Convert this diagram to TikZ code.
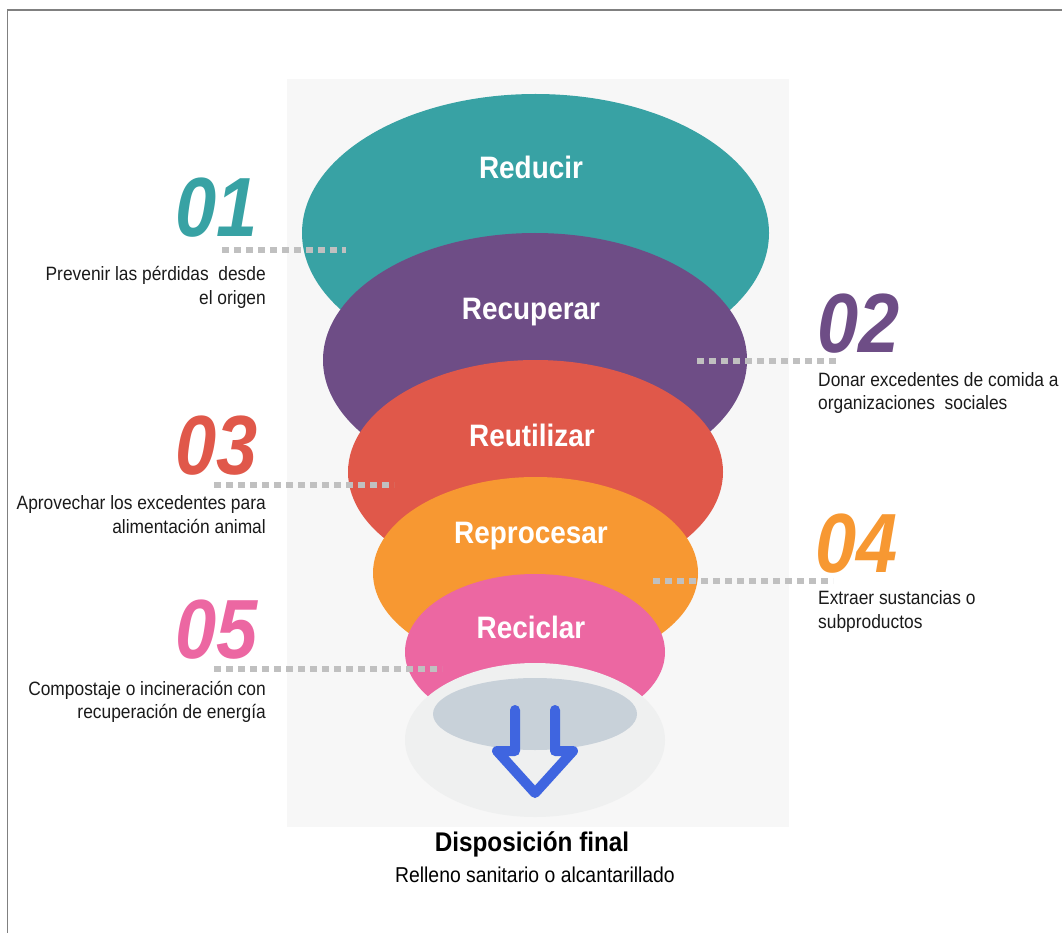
\documentclass[tikz,border=0pt]{standalone}
\usepackage{fontspec}
\setmainfont{Liberation Sans}
\newfontfamily\narrowf{Liberation Sans}[FakeStretch=0.9]
\newfontfamily\numf{Liberation Sans}[FakeStretch=0.88]
\definecolor{cteal}{HTML}{38A2A4}
\definecolor{cpurple}{HTML}{6E4D86}
\definecolor{cred}{HTML}{E0584A}
\definecolor{corange}{HTML}{F79832}
\definecolor{cpink}{HTML}{EC67A2}
\definecolor{cbg}{HTML}{F7F7F7}
\definecolor{clight}{HTML}{EFF0F0}
\definecolor{cdark}{HTML}{C8D1D9}
\definecolor{cblue}{HTML}{3F65E0}
\definecolor{cdot}{HTML}{C0C0C0}
\definecolor{cframe}{HTML}{808080}
\definecolor{ctext}{HTML}{1A1A1A}
\begin{document}
\begin{tikzpicture}[x=1pt,y=-1pt,
  title/.style={anchor=base,inner sep=0pt,text=white,font=\narrowf\bfseries\fontsize{31}{31}\selectfont},
  num/.style={anchor=base east,inner sep=0pt,font=\numf\bfseries\itshape\fontsize{84}{84}\selectfont},
  numr/.style={anchor=base west,inner sep=0pt,font=\numf\bfseries\itshape\fontsize{84}{84}\selectfont},
  descl/.style={anchor=base east,inner sep=0pt,text=ctext,font=\narrowf\fontsize{19.3}{24}\selectfont},
  descr/.style={anchor=base west,inner sep=0pt,text=ctext,font=\narrowf\fontsize{19.3}{24}\selectfont},
  dotline/.style={draw=cdot,line width=6.5pt,dash pattern=on 6.5pt off 5.5pt}]
\useasboundingbox (0,0) rectangle (1062,933);
% frame
\draw[cframe,line width=1.5pt] (7.5,933) -- (7.5,10) -- (1062,10);
% background panel
\fill[cbg] (287,79) rectangle (789,827);
% funnel ellipses
\fill[cteal] (535.5,233) ellipse [x radius=233.5pt, y radius=139pt];
\fill[cpurple] (535,360) ellipse [x radius=212pt, y radius=127pt];
\fill[cred] (535.5,472) ellipse [x radius=187.5pt, y radius=112pt];
\fill[corange] (535.5,573) ellipse [x radius=162.5pt, y radius=96pt];
\fill[cpink] (535,652) ellipse [x radius=130pt, y radius=78pt];
\fill[clight] (535,740) ellipse [x radius=130pt, y radius=77pt];
\fill[cdark] (535,714) ellipse [x radius=102pt, y radius=36pt];
% arrow
\draw[cblue,line width=10pt,line cap=round,line join=round]
  (515,710) -- (515,751) -- (497,751) -- (535,793) -- (573,751) -- (555,751) -- (555,710);
% titles
\node[title] (t1) at (531,179) {Reducir};
\node[title] (t2) at (531,319) {Recuperar};
\node[title] (t3) at (532,446) {Reutilizar};
\node[title] (t4) at (531,543) {Reprocesar};
\node[title] (t5) at (531,638) {Reciclar};
% connectors
\coordinate (d1a) at (222,250); \coordinate (d1b) at (346,250);
\coordinate (d2a) at (697,361); \coordinate (d2b) at (839,361);
\coordinate (d3a) at (214,485); \coordinate (d3b) at (394,485);
\coordinate (d4a) at (653,581); \coordinate (d4b) at (833,581);
\coordinate (d5a) at (214,669); \coordinate (d5b) at (442,669);
\draw[dotline] (d1a) -- (d1b);
\draw[dotline] (d2a) -- (d2b);
\draw[dotline] (d3a) -- (d3b);
\draw[dotline] (d4a) -- (d4b);
\draw[dotline] (d5a) -- (d5b);
% numbers
\node[num,text=cteal] (n1) at (258,237) {01};
\node[numr,text=cpurple] (n2) at (817,352) {02};
\node[num,text=cred] (n3) at (258,474) {03};
\node[numr,text=corange] (n4) at (815,572) {04};
\node[num,text=cpink] (n5) at (258,658) {05};
% descriptions
\node[descl] (e1a) at (266,280) {Prevenir las pérdidas\ \ desde};
\node[descl] (e1b) at (266,304) {el origen};
\node[descr] (e2a) at (818,386) {Donar excedentes de comida a};
\node[descr] (e2b) at (818,409) {organizaciones\ \ sociales};
\node[descl] (e3a) at (266,509) {Aprovechar los excedentes para};
\node[descl] (e3b) at (266,533) {alimentación animal};
\node[descr] (e4a) at (818,604) {Extraer sustancias o};
\node[descr] (e4b) at (818,628) {subproductos};
\node[descl] (e5a) at (266,695) {Compostaje o incineración con};
\node[descl] (e5b) at (266,718) {recuperación de energía};
% final
\node[anchor=base,inner sep=0pt,font=\narrowf\bfseries\fontsize{27}{27}\selectfont] (f1) at (532,851) {Disposición final};
\node[anchor=base,inner sep=0pt,font=\narrowf\fontsize{21.5}{21.5}\selectfont] (f2) at (535,882) {Relleno sanitario o alcantarillado};
\end{tikzpicture}
\end{document}
